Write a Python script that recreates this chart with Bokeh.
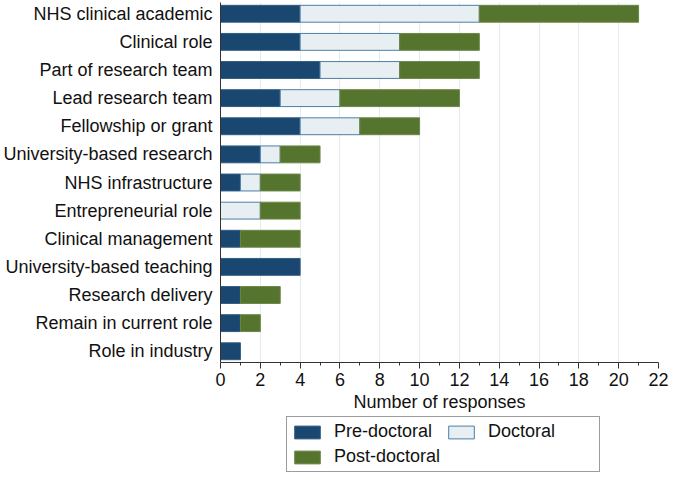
from bokeh.plotting import figure
from bokeh.layouts import column
from bokeh.models import ColumnDataSource, Range1d, FixedTicker, Legend, LegendItem
from bokeh.embed import file_html
from bokeh.resources import INLINE

categories = ["NHS clinical academic", "Clinical role", "Part of research team",
              "Lead research team", "Fellowship or grant", "University-based research",
              "NHS infrastructure", "Entrepreneurial role", "Clinical management",
              "University-based teaching", "Research delivery", "Remain in current role",
              "Role in industry"]
pre_doctoral = [4, 4, 5, 3, 4, 2, 1, 0, 1, 4, 1, 1, 1]
doctoral = [9, 5, 4, 3, 3, 1, 1, 2, 0, 0, 0, 0, 0]
post_doctoral = [8, 4, 4, 6, 3, 2, 2, 2, 3, 0, 2, 1, 0]
series_names = ["Pre-doctoral", "Doctoral", "Post-doctoral"]
x_ticks = [0, 2, 4, 6, 8, 10, 12, 14, 16, 18, 20, 22]
x_minor = [1, 3, 5, 7, 9, 11, 13, 15, 17, 19, 21]

FONT = "Liberation Sans"
FS = "18px"
n = len(categories)
ypos = [n - i for i in range(n)]

series = [pre_doctoral, doctoral, post_doctoral]
fills = ["#1a476f", "#e8eff2", "#55752f"]
lines = ["#2f5d85", "#4d7ea6", "#6a8748"]

p = figure(width=669, height=414, output_backend="svg", toolbar_location=None,
           x_range=Range1d(0, 22), y_range=Range1d(0.6, 13.4),
           min_border_left=219, min_border_right=11, min_border_top=2, min_border_bottom=0)
p.outline_line_color = None
p.background_fill_color = "white"
p.border_fill_color = "white"

cum = [0] * n
for name, vals, fc, lc in zip(series_names, series, fills, lines):
    left = list(cum)
    right = [a + b for a, b in zip(cum, vals)]
    src = ColumnDataSource(dict(y=ypos, left=left, right=right,
                                la=[1.0 if v > 0 else 0.0 for v in vals]))
    p.hbar(y="y", left="left", right="right", height=0.6, source=src,
           fill_color=fc, line_color=lc, line_width=1, line_alpha="la")
    cum = right

# x axis
p.xaxis.ticker = FixedTicker(ticks=x_ticks, minor_ticks=x_minor)
p.xaxis.axis_label = "Number of responses"
p.xaxis.axis_label_text_font = FONT
p.xaxis.axis_label_text_font_size = FS
p.xaxis.axis_label_text_font_style = "normal"
p.xaxis.axis_label_text_color = "#111111"
p.xaxis.axis_label_standoff = 3
p.xaxis.major_label_text_font = FONT
p.xaxis.major_label_text_font_size = FS
p.xaxis.major_label_text_color = "#111111"
p.xaxis.major_label_standoff = 4
p.xaxis.major_tick_out = 6
p.xaxis.major_tick_in = 0
p.xaxis.minor_tick_out = 3
p.xaxis.minor_tick_in = 0
p.xaxis.axis_line_color = "#333333"
p.xaxis.major_tick_line_color = "#333333"
p.xaxis.minor_tick_line_color = "#333333"

# y axis
p.yaxis.ticker = FixedTicker(ticks=ypos)
p.yaxis.major_label_overrides = {y: c for y, c in zip(ypos, categories)}
p.yaxis.major_label_text_font = FONT
p.yaxis.major_label_text_font_size = FS
p.yaxis.major_label_text_color = "#111111"
p.yaxis.major_label_standoff = 8
p.yaxis.major_tick_out = 0
p.yaxis.major_tick_in = 0
p.yaxis.minor_tick_line_color = None
p.yaxis.axis_line_color = "#333333"

p.xgrid.ticker = FixedTicker(ticks=x_ticks)
p.xgrid.grid_line_color = "#e2ebf0"
p.xgrid.grid_line_width = 1
p.ygrid.grid_line_color = None

# legend in its own strip below the chart (frames are aligned by the column layout)
lg = figure(width=669, height=60, output_backend="svg", toolbar_location=None,
            x_range=Range1d(0, 1), y_range=Range1d(0, 1),
            x_axis_type=None, y_axis_type=None,
            min_border_left=219, min_border_right=11, min_border_top=0, min_border_bottom=0)
lg.outline_line_color = None
lg.xgrid.grid_line_color = None
lg.ygrid.grid_line_color = None
items = []
for name, fc, lc in zip(series_names, fills, lines):
    # legend-key renderer, its single bar sits outside the visible range
    dummy = ColumnDataSource(dict(y=[-5.0], left=[0.0], right=[1.0]))
    r = lg.hbar(y="y", left="left", right="right", height=0.5, source=dummy,
                fill_color=fc, line_color=lc, line_width=1)
    items.append(LegendItem(label=name, renderers=[r]))

legend = Legend(items=items, orientation="horizontal", ncols=2, location=(66, 2))
legend.label_text_font = FONT
legend.label_text_font_size = FS
legend.label_text_color = "#111111"
legend.glyph_width = 32
legend.glyph_height = 16
legend.label_standoff = 11
legend.label_width = 107
legend.spacing = 4
legend.padding = 4
legend.margin = 0
legend.border_line_color = "#3a3a3a"
legend.border_line_width = 1
legend.background_fill_color = "white"
lg.add_layout(legend, "center")

layout = column(p, lg, spacing=0)
open("out.html", "w").write(file_html(layout, INLINE))
